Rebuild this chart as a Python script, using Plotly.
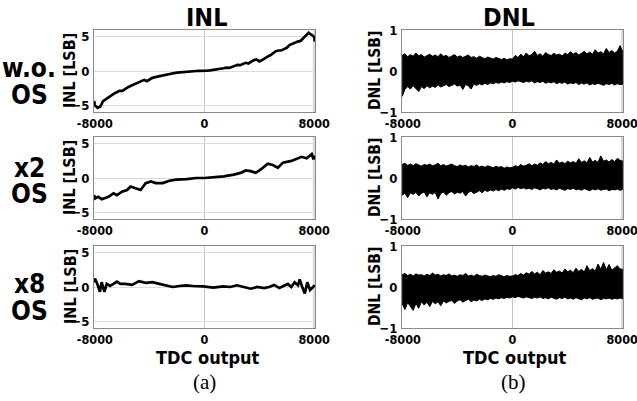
import numpy as np
import plotly.graph_objects as go

# INL, w.o. OS
inl1_x = [-8050, -8000, -7800, -7600, -7400, -7200, -7000, -6800, -6600, -6400, -6200, -6000,
          -5800, -5600, -5400, -5200, -5000, -4800, -4600, -4400, -4200, -4000, -3800, -3600,
          -3400, -3200, -3000, -2800, -2600, -2400, -2200, -2000, -1800, -1600, -1400, -1200,
          -1000, -800, -600, -400, -200, 0, 200, 400, 600, 800, 1000, 1200, 1400, 1600, 1800,
          2000, 2200, 2400, 2600, 2800, 3000, 3200, 3400, 3600, 3800, 4000, 4200, 4400, 4600,
          4800, 5000, 5200, 5400, 5600, 5800, 6000, 6200, 6400, 6600, 6800, 7000, 7200, 7400,
          7600, 7800, 8000, 8050]
inl1_y = [-4.4, -5.0, -5.4, -5.2, -4.4, -4.1, -3.8, -3.6, -3.3, -3.1, -2.9, -2.9,
          -2.6, -2.4, -2.2, -2.0, -1.8, -1.6, -1.4, -1.3, -1.5, -1.2, -1.0, -0.9,
          -0.8, -0.7, -0.6, -0.5, -0.45, -0.35, -0.3, -0.25, -0.2, -0.15, -0.1, -0.05,
          -0.05, 0.0, 0.0, 0.02, 0.0, 0.0, 0.05, 0.1, 0.15, 0.2, 0.2, 0.3, 0.4, 0.5, 0.45,
          0.6, 0.7, 0.9, 0.85, 1.0, 1.2, 1.1, 1.4, 1.6, 1.7, 1.4, 1.6, 1.9, 2.1,
          2.3, 2.6, 2.9, 3.0, 3.0, 3.2, 3.4, 3.8, 4.0, 4.2, 4.3, 4.4, 4.8, 5.3,
          5.6, 5.3, 5.0, 4.3]

# INL, x2 OS
inl2_x = [-8050, -7990, -7750, -7500, -7000, -6640, -6390, -6020, -5650, -5400, -5030, -4660,
          -4290, -3920, -3550, -3050, -2560, -2060, -1320, -580, 0, 650, 1400, 2140, 2630,
          3000, 3370, 3740, 4110, 4610, 4980, 5350, 5720, 6340, 6710, 7080, 7450, 7820, 7950,
          8050]
inl2_y = [-2.5, -3.0, -2.75, -3.1, -2.75, -2.25, -2.5, -2.0, -1.75, -1.25, -1.5, -1.75,
          -0.75, -0.5, -0.75, -0.75, -0.4, -0.25, -0.15, 0.0, 0.0, 0.1, 0.25, 0.5, 0.75,
          1.1, 1.0, 0.75, 1.25, 2.1, 1.9, 1.5, 2.25, 2.5, 2.75, 3.1, 2.9, 3.5, 2.75,
          3.25]

# INL, x8 OS
inl3_x = [-8050, -7990, -7820, -7630, -7500, -7300, -7130, -6890, -6640, -6390, -6140, -5770,
          -5280, -4780, -4290, -3800, -3300, -2810, -2320, -1820, -1330, -840, -100, 640,
          1380, 1880, 2370, 2860, 3360, 3850, 4340, 4710, 5090, 5460, 5830, 6080, 6330, 6570,
          6820, 6940, 7130, 7320, 7500, 7700, 8050]
inl3_y = [0.7, 1.25, 0.45, -0.7, 0.7, -0.7, 0.45, 0.15, 0.45, 0.8, 0.45, 0.45,
          0.3, 0.85, 0.6, 0.7, 0.45, 0.25, 0.0, 0.15, 0.25, 0.15, 0.1, -0.1,
          0.1, 0.0, 0.25, 0.0, -0.25, 0.0, -0.15, 0.0, 0.3, -0.15, 0.15, 0.45, 0.0, 0.7,
          0.25, 1.1, 0.0, -0.95, 0.7, -0.45, 0.25]

# DNL envelopes (upper / lower)
dnl1_up = [0.38, 0.42, 0.35, 0.40, 0.36, 0.44, 0.37, 0.40, 0.34, 0.38, 0.41, 0.36, 0.39, 0.35,
           0.42, 0.36, 0.38, 0.33, 0.37, 0.40, 0.34, 0.37, 0.33, 0.36, 0.39, 0.33, 0.35, 0.31,
           0.36, 0.33, 0.30, 0.34, 0.31, 0.29, 0.33, 0.30, 0.28, 0.31, 0.27, 0.30, 0.29, 0.38,
           0.33, 0.41, 0.35, 0.44, 0.37, 0.40, 0.48, 0.38, 0.42, 0.36, 0.45, 0.40, 0.38, 0.43,
           0.39, 0.41, 0.37, 0.44, 0.40, 0.47, 0.41, 0.45, 0.39, 0.43, 0.48, 0.42, 0.46, 0.41,
           0.52, 0.44, 0.47, 0.42, 0.55, 0.45, 0.50, 0.44, 0.48, 0.62, 0.46]
dnl1_lo = [-0.62, -0.45, -0.38, -0.44, -0.36, -0.42, -0.50, -0.38, -0.43, -0.36, -0.41, -0.37,
           -0.40, -0.34, -0.39, -0.36, -0.33, -0.38, -0.35, -0.32, -0.37, -0.34, -0.45, -0.33,
           -0.36, -0.44, -0.32, -0.35, -0.31, -0.34, -0.30, -0.33, -0.29, -0.31, -0.28, -0.30,
           -0.27, -0.29, -0.26, -0.28, -0.25, -0.27, -0.24, -0.26, -0.28, -0.25, -0.27, -0.24,
           -0.29, -0.26, -0.28, -0.25, -0.30, -0.27, -0.29, -0.26, -0.31, -0.28, -0.30, -0.27,
           -0.32, -0.29, -0.31, -0.28, -0.33, -0.30, -0.32, -0.29, -0.34, -0.31, -0.33, -0.30,
           -0.32, -0.35, -0.31, -0.33, -0.30, -0.34, -0.31, -0.33, -0.32]

dnl2_up = [0.33, 0.36, 0.31, 0.34, 0.30, 0.35, 0.32, 0.29, 0.33, 0.31, 0.34, 0.30, 0.32, 0.36,
           0.30, 0.33, 0.29, 0.31, 0.34, 0.30, 0.28, 0.32, 0.29, 0.31, 0.27, 0.30, 0.28, 0.32,
           0.27, 0.29, 0.26, 0.30, 0.27, 0.25, 0.29, 0.26, 0.28, 0.24, 0.27, 0.25, 0.26, 0.30,
           0.27, 0.33, 0.29, 0.31, 0.35, 0.30, 0.34, 0.31, 0.37, 0.33, 0.40, 0.35, 0.38, 0.34,
           0.44, 0.36, 0.39, 0.35, 0.41, 0.37, 0.40, 0.36, 0.47, 0.38, 0.42, 0.37, 0.50, 0.39,
           0.43, 0.38, 0.54, 0.41, 0.44, 0.39, 0.45, 0.40, 0.48, 0.43, 0.41]
dnl2_lo = [-0.42, -0.37, -0.48, -0.36, -0.40, -0.35, -0.44, -0.37, -0.34, -0.46, -0.36, -0.40,
           -0.35, -0.51, -0.38, -0.34, -0.42, -0.36, -0.33, -0.39, -0.35, -0.37, -0.33, -0.44,
           -0.35, -0.32, -0.38, -0.34, -0.31, -0.36, -0.30, -0.33, -0.29, -0.32, -0.28, -0.31,
           -0.27, -0.30, -0.26, -0.28, -0.24, -0.27, -0.23, -0.26, -0.24, -0.27, -0.25, -0.28,
           -0.24, -0.26, -0.29, -0.25, -0.27, -0.24, -0.28, -0.26, -0.29, -0.25, -0.27, -0.30,
           -0.26, -0.28, -0.25, -0.29, -0.27, -0.30, -0.26, -0.28, -0.31, -0.27, -0.29, -0.26,
           -0.30, -0.28, -0.27, -0.31, -0.28, -0.29, -0.27, -0.30, -0.28]

dnl3_up = [0.30, 0.33, 0.28, 0.31, 0.27, 0.32, 0.29, 0.30, 0.27, 0.31, 0.28, 0.34, 0.29, 0.31,
           0.27, 0.30, 0.28, 0.32, 0.27, 0.29, 0.26, 0.30, 0.28, 0.33, 0.27, 0.29, 0.26, 0.31,
           0.28, 0.26, 0.29, 0.27, 0.25, 0.28, 0.26, 0.30, 0.27, 0.25, 0.28, 0.26, 0.27, 0.30,
           0.28, 0.33, 0.29, 0.35, 0.31, 0.38, 0.32, 0.36, 0.30, 0.40, 0.34, 0.37, 0.33, 0.42,
           0.36, 0.39, 0.34, 0.44, 0.37, 0.41, 0.35, 0.46, 0.38, 0.43, 0.37, 0.52, 0.40, 0.45,
           0.39, 0.56, 0.43, 0.60, 0.42, 0.55, 0.41, 0.47, 0.52, 0.44, 0.43]
dnl3_lo = [-0.40, -0.55, -0.38, -0.47, -0.57, -0.40, -0.52, -0.36, -0.44, -0.37, -0.48, -0.35,
           -0.41, -0.36, -0.46, -0.34, -0.39, -0.35, -0.33, -0.40, -0.34, -0.31, -0.37, -0.33,
           -0.30, -0.36, -0.32, -0.34, -0.30, -0.33, -0.29, -0.31, -0.28, -0.30, -0.27, -0.29,
           -0.26, -0.28, -0.25, -0.27, -0.24, -0.26, -0.23, -0.25, -0.27, -0.24, -0.26, -0.28,
           -0.25, -0.27, -0.24, -0.28, -0.26, -0.29, -0.25, -0.27, -0.30, -0.26, -0.28, -0.25,
           -0.29, -0.27, -0.30, -0.26, -0.28, -0.31, -0.27, -0.29, -0.26, -0.30, -0.28, -0.27,
           -0.31, -0.28, -0.29, -0.27, -0.30, -0.28, -0.29, -0.27, -0.28]

row_labels = [("w.o.", "OS"), ("x2", "OS"), ("x8", "OS")]
x_ticks = [-8000, 0, 8000]

NARROW = "DejaVu Sans Condensed, Liberation Sans Narrow, Arial Narrow, Liberation Sans"
SERIF = "Liberation Serif, Times New Roman, serif"

# domains in paper coords (637 x 401 window)
W, H = 637, 401
col_dom = [[94 / W, 315 / W], [402 / W, 623 / W]]
row_dom = [[1 - 112 / H, 1 - 30 / H], [1 - 219 / H, 1 - 137 / H], [1 - 328 / H, 1 - 246 / H]]
label_y = [(68, 95), (168, 194), (284, 311)]  # pixel centres of the row labels

fig = go.Figure()

inl_data = [(inl1_x, inl1_y), (inl2_x, inl2_y), (inl3_x, inl3_y)]
dnl_data = [(dnl1_up, dnl1_lo), (dnl2_up, dnl2_lo), (dnl3_up, dnl3_lo)]


def note(text, x, y, size, family=NARROW, bold=True, angle=0):
    return dict(text=text, xref="paper", yref="paper", x=x / W, y=1 - y / H,
                xanchor="center", yanchor="middle", showarrow=False, textangle=angle,
                align="center",
                font=dict(family=family, size=size, color="black",
                          weight="bold" if bold else "normal"))


layout = {}
shapes = []
annotations = []
n = 0
for r in range(3):
    for c in range(2):
        n += 1
        xa = "xaxis" if n == 1 else f"xaxis{n}"
        ya = "yaxis" if n == 1 else f"yaxis{n}"
        xr = "x" if n == 1 else f"x{n}"
        yr = "y" if n == 1 else f"y{n}"
        if c == 0:
            xs, ys = inl_data[r]
            fig.add_trace(go.Scatter(x=xs, y=ys, mode="lines", xaxis=xr, yaxis=yr,
                                     line=dict(color="black", width=2.7), showlegend=False))
            yrange, yticks, ytitle = [-6, 6], [-5, 0, 5], "INL [LSB]"
        else:
            up, lo = dnl_data[r]
            xs = np.linspace(-8050, 8050, len(up))
            fig.add_trace(go.Scatter(x=xs, y=lo, mode="lines", xaxis=xr, yaxis=yr,
                                     line=dict(color="black", width=1), showlegend=False))
            fig.add_trace(go.Scatter(x=xs, y=up, mode="lines", xaxis=xr, yaxis=yr, fill="tonexty",
                                     fillcolor="black", line=dict(color="black", width=1),
                                     showlegend=False))
            yrange, yticks, ytitle = [-1, 1], [-1, 0, 1], "DNL [LSB]"
        layout[xa] = dict(domain=col_dom[c], anchor=yr, range=[-8060, 8060], tickvals=x_ticks,
                          ticktext=["-8000", "0", "8000"], showgrid=True, gridcolor="#c8c8c8",
                          gridwidth=1, zeroline=False, showline=True, linecolor="#8a8a8a",
                          mirror=True, ticks="", ticklabelstandoff=0, automargin=False,
                          ticklabeloverflow="allow",
                          tickfont=dict(family=NARROW, size=12.5, color="black", weight="bold"))
        layout[ya] = dict(domain=row_dom[r], anchor=xr, range=yrange, tickvals=yticks,
                          showgrid=True, gridcolor="#dcdcdc", zeroline=False, showline=True,
                          linecolor="#8a8a8a", mirror=True, ticks="", ticklabelstandoff=1,
                          automargin=False, ticklabeloverflow="allow",
                          tickfont=dict(family=NARROW, size=13, color="black", weight="bold"))
        # light band at the right edge of each axis box
        shapes.append(dict(type="rect", xref=xr, yref=f"{yr} domain", x0=7900, x1=8060,
                           y0=0, y1=1, fillcolor="#dadada", line_width=0, layer="below"))
        ymid = (row_dom[r][0] + row_dom[r][1]) / 2
        annotations.append(note(ytitle, 70 if c == 0 else 375, (1 - ymid) * H,
                                16 if c == 0 else 15.5, angle=-90))
    top, bot = row_labels[r]
    annotations.append(note(top, 29, label_y[r][0], 26))
    annotations.append(note(bot, 29, label_y[r][1], 26))

annotations.append(note("INL", 207, 17, 25))
annotations.append(note("DNL", 509, 17, 25))
annotations.append(note("TDC output", 208, 357, 18))
annotations.append(note("TDC output", 515, 357, 18))
annotations.append(note("(a)", 204, 382, 21, family=SERIF, bold=False))
annotations.append(note("(b)", 513, 382, 21, family=SERIF, bold=False))

fig.update_layout(width=W, height=H, margin=dict(l=0, r=0, t=0, b=0, pad=0, autoexpand=False),
                  paper_bgcolor="white", plot_bgcolor="white", shapes=shapes,
                  annotations=annotations, **layout)
fig.write_html("out.html", config={"displayModeBar": False},
               post_script="document.body.style.margin='0';")
